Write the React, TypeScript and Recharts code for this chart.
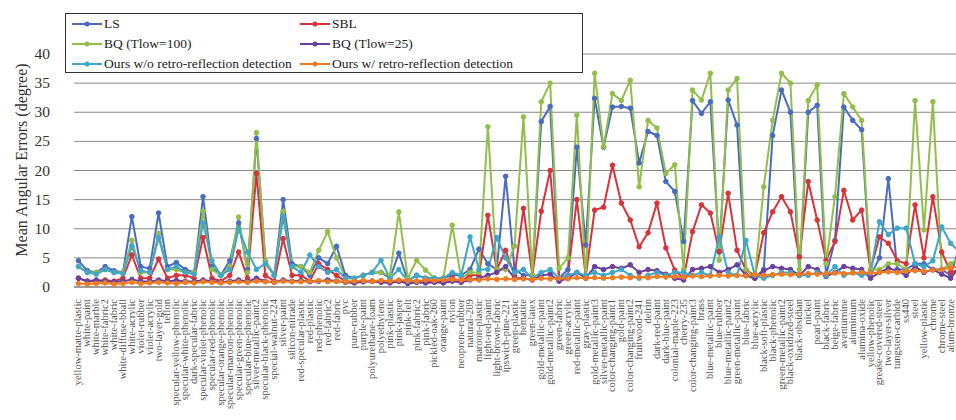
import React from "react";
import { LineChart, Line, XAxis, YAxis, CartesianGrid } from "recharts";

// MERL materials, in the order they are plotted
const materials = [
  "yellow-matte-plastic", "white-paint", "white-marble", "white-fabric2", "white-fabric",
  "white-diffuse-bball", "white-acrylic", "violet-rubber", "violet-acrylic", "two-layer-gold",
  "teflon", "specular-yellow-phenolic", "specular-white-phenolic", "dark-specular-fabric", "specular-violet-phenolic",
  "specular-red-phenolic", "specular-orange-phenolic", "specular-maroon-phenolic", "specular-green-phenolic", "specular-blue-phenolic",
  "silver-metallic-paint2", "specular-black-phenolic", "special-walnut-224", "silver-paint", "silicon-nitrade",
  "red-specular-plastic", "red-plastic", "red-phenolic", "red-fabric2", "red-fabric",
  "pvc", "pure-rubber", "purple-paint", "polyurethane-foam", "polyethylene",
  "pink-plastic", "pink-jasper", "pink-felt", "pink-fabric2", "pink-fabric",
  "pickled-oak-260", "orange-paint", "nylon", "neoprene-rubber", "natural-209",
  "maroon-plastic", "light-red-paint", "light-brown-fabric", "ipswich-pine-221", "green-plastic",
  "hematite", "green-latex", "gold-metallic-paint", "gold-metallic-paint2", "green-fabric",
  "green-acrylic", "red-metallic-paint", "gray-plastic", "gold-metallic-paint3", "silver-metallic-paint",
  "color-changing-paint1", "gold-paint", "color-changing-paint2", "fruitwood-241", "delrin",
  "dark-red-paint", "dark-blue-paint", "colonial-maple-223", "cherry-235", "color-changing-paint3",
  "brass", "blue-metallic-paint", "blue-rubber", "blue-metallic-paint2", "green-metallic-paint",
  "blue-fabric", "blue-acrylic", "black-soft-plastic", "black-phenolic", "green-metallic-paint2",
  "black-oxidized-steel", "black-obsidian", "nickel", "pearl-paint", "black-fabric",
  "beige-fabric", "aventurnine", "aluminium", "alumina-oxide", "yellow-phenolic",
  "grease-covered-steel", "two-layer-silver", "tungsten-carbide", "ss440", "steel",
  "yellow-plastic", "chrome", "chrome-steel", "alum-bronze", "yellow-paint",
];

const ls = [
  4.5, 2.8, 2.5, 3.5, 2.8, 2.5, 12.1, 3.5, 3.2, 12.7,
  3.5, 4.2, 3.0, 2.5, 15.5, 3.5, 2.0, 4.5, 11.0, 3.0,
  25.5, 4.5, 2.0, 15.0, 4.0, 3.5, 2.0, 5.0, 4.0, 7.0,
  2.0, 1.5, 2.0, 2.5, 2.5, 1.5, 5.8, 1.0, 2.0, 1.5,
  1.5, 1.5, 2.0, 2.0, 3.0, 6.5, 4.0, 3.0, 19.0, 3.0,
  2.0, 2.0, 28.4, 31.0, 1.5, 3.0, 24.0, 7.2, 32.4, 24.0,
  30.9, 31.0, 30.7, 21.3, 26.7, 26.0, 18.1, 16.4, 7.8, 32.0,
  29.8, 31.8, 6.0, 32.1, 27.8, 2.0, 1.5, 3.0, 26.0, 33.8,
  30.0, 2.0, 30.0, 31.2, 2.0, 8.0, 30.9, 28.6, 27.0, 2.0,
  5.0, 18.6, 3.0, 3.0, 4.0, 4.0, 3.0, 3.0, 2.0, 7.0,
];

const sbl = [
  1.5, 1.0, 1.0, 1.2, 1.0, 1.5, 5.5, 1.5, 1.5, 4.8,
  1.5, 2.0, 2.0, 1.5, 8.5, 1.5, 1.0, 2.0, 6.0, 1.5,
  19.5, 2.0, 1.0, 8.3, 2.0, 2.0, 1.0, 4.0, 3.0, 2.0,
  1.0, 0.8, 1.0, 1.0, 1.0, 0.8, 1.0, 0.8, 1.0, 1.0,
  1.0, 1.0, 1.5, 1.0, 2.0, 2.0, 12.3, 3.0, 6.3, 2.0,
  13.5, 2.0, 13.0, 20.0, 1.5, 2.0, 15.0, 1.8, 13.2, 13.7,
  20.9, 14.4, 11.5, 6.9, 9.3, 14.4, 6.7, 2.9, 1.5, 9.5,
  14.1, 12.7, 6.1, 16.1, 6.3, 2.9, 2.0, 9.3, 12.9, 15.5,
  12.9, 5.2, 18.1, 11.5, 4.6, 7.8, 16.6, 11.5, 13.2, 3.0,
  8.6, 7.5, 4.5, 4.0, 14.1, 5.0, 15.5, 6.0, 2.5, 3.0,
];

const bq100 = [
  3.5, 2.5, 2.5, 3.0, 2.5, 2.5, 8.0, 2.5, 2.5, 9.2,
  3.0, 3.0, 2.5, 2.5, 13.0, 3.0, 2.0, 3.5, 12.0, 2.5,
  26.5, 4.5, 2.0, 13.0, 3.5, 3.5, 2.5, 6.3, 9.5, 5.0,
  1.5, 1.5, 2.0, 2.5, 2.5, 2.0, 12.9, 1.5, 4.6, 2.9,
  1.5, 1.5, 10.6, 1.5, 2.5, 2.5, 27.5, 3.0, 3.0, 7.0,
  29.2, 2.0, 31.8, 35.0, 3.2, 5.0, 29.5, 1.5, 36.7, 24.1,
  33.2, 32.0, 35.5, 17.2, 28.6, 27.3, 19.5, 21.0, 3.0, 33.8,
  32.1, 36.7, 4.6, 33.8, 35.8, 3.0, 1.5, 17.2, 28.6, 36.7,
  35.0, 3.0, 32.0, 34.7, 4.0, 15.5, 33.2, 30.9, 28.6, 3.0,
  3.0, 4.0, 4.0, 3.0, 32.0, 9.8, 31.8, 3.0, 4.0, 5.0,
];

const bq25 = [
  1.5, 1.0, 1.2, 1.0, 0.9, 1.0, 1.3, 1.0, 0.9, 1.2,
  1.0, 1.1, 1.0, 0.9, 1.2, 1.0, 0.8, 1.0, 1.2, 0.9,
  1.5, 1.0, 0.8, 1.2, 1.0, 1.1, 0.9, 1.0, 1.2, 1.0,
  0.8, 0.7, 0.9, 1.0, 0.8, 0.7, 1.0, 0.6, 0.8, 0.7,
  0.8, 0.7, 1.0, 0.8, 1.2, 1.5, 2.0, 2.5, 3.5, 1.5,
  1.5, 1.2, 2.0, 2.2, 1.0, 1.5, 2.5, 1.5, 3.5, 3.0,
  3.5, 3.2, 3.8, 2.5, 3.0, 2.8, 2.2, 1.5, 1.2, 3.0,
  3.2, 3.5, 2.5, 3.0, 3.8, 2.0, 1.5, 2.8, 3.5, 3.2,
  3.0, 2.0, 3.5, 3.0, 1.8, 2.5, 3.5, 3.2, 3.0, 1.5,
  2.5, 3.2, 2.8, 2.0, 3.5, 2.5, 3.0, 2.2, 1.5, 3.5,
];

const oursWo = [
  3.5, 2.5, 2.2, 3.0, 2.5, 2.3, 7.0, 2.8, 2.5, 8.5,
  3.0, 3.5, 2.5, 2.2, 11.0, 4.5, 2.0, 3.0, 10.0, 6.0,
  3.0, 4.0, 2.0, 12.0, 3.5, 2.5, 5.5, 3.5, 2.5, 3.0,
  1.5, 1.5, 2.0, 2.5, 4.6, 1.5, 3.0, 1.0, 2.0, 1.5,
  1.5, 1.5, 2.5, 2.0, 8.6, 3.0, 3.0, 8.5, 5.0, 2.5,
  3.0, 1.5, 2.5, 3.0, 1.5, 2.0, 2.5, 2.0, 2.5, 2.0,
  2.5, 3.0, 2.0, 1.5, 2.0, 2.5, 2.0, 2.5, 2.5, 2.0,
  2.5, 2.0, 8.6, 2.5, 2.0, 8.0, 2.0, 1.5, 2.0, 2.5,
  2.5, 2.0, 2.0, 2.5, 2.0, 3.5, 2.0, 2.5, 2.0, 2.5,
  11.2, 9.0, 10.1, 10.1, 4.0, 3.5, 4.5, 10.3, 7.5, 6.0,
];

const oursW = [
  0.6, 0.5, 0.6, 0.7, 0.5, 0.6, 0.8, 0.6, 0.7, 0.8,
  0.7, 0.6, 0.8, 0.7, 0.9, 0.8, 0.7, 0.8, 0.9, 0.8,
  1.0, 0.9, 0.8, 1.0, 0.9, 0.9, 1.0, 1.1, 0.9, 1.0,
  0.9, 1.0, 1.1, 1.0, 1.1, 1.0, 1.2, 1.1, 1.0, 1.2,
  1.1, 1.2, 1.3, 1.2, 1.3, 1.2, 1.4, 1.3, 1.4, 1.3,
  1.4, 1.3, 1.5, 1.4, 1.5, 1.4, 1.6, 1.5, 1.6, 1.5,
  1.6, 1.7, 1.6, 1.7, 1.6, 1.8, 1.7, 1.8, 1.7, 1.9,
  1.8, 1.9, 2.0, 1.9, 2.0, 1.9, 2.1, 2.0, 2.1, 2.2,
  2.1, 2.2, 2.3, 2.2, 2.3, 2.4, 2.3, 2.4, 2.5, 2.4,
  2.5, 2.6, 2.5, 2.7, 2.8, 2.7, 2.9, 3.0, 3.3, 3.5,
];

const yTicks = [0, 5, 10, 15, 20, 25, 30, 35, 40];

const series = [
  { key: "ls", name: "LS", color: "#4a6cc0" },
  { key: "sbl", name: "SBL", color: "#d8333a" },
  { key: "bq100", name: "BQ (Tlow=100)", color: "#92bf4a" },
  { key: "bq25", name: "BQ (Tlow=25)", color: "#6a3f9e" },
  { key: "oursWo", name: "Ours w/o retro-reflection detection", color: "#3fa7c9" },
  { key: "oursW", name: "Ours w/ retro-reflection detection", color: "#f07c22" },
];

const data = materials.map((m, i) => ({
  name: m,
  ls: ls[i],
  sbl: sbl[i],
  bq100: bq100[i],
  bq25: bq25[i],
  oursWo: oursWo[i],
  oursW: oursW[i],
}));

const SERIF = "'Liberation Serif', 'DejaVu Serif', serif";

const MaterialTick = (props: any) => {
  const { x, y, payload } = props;
  return (
    <text
      x={0}
      y={0}
      transform={`translate(${x + 3},${y + 4}) rotate(-90)`}
      textAnchor="end"
      fontSize={10.5}
      fontFamily={SERIF}
      fill="#555"
    >
      {payload.value}
    </text>
  );
};

const ValueTick = (props: any) => {
  const { y, payload } = props;
  return (
    <text x={50} y={y + 5} textAnchor="end" fontSize={15.5} fontFamily={SERIF} fill="#333">
      {payload.value}
    </text>
  );
};

const AxisTitle = () => (
  <text
    x={0}
    y={0}
    transform="translate(27,160) rotate(-90)"
    textAnchor="middle"
    fontSize={16}
    fontFamily={SERIF}
    fill="#333"
  >
    Mean Angular Errors (degree)
  </text>
);

const legendRows = [
  [series[0], series[1]],
  [series[2], series[3]],
  [series[4], series[5]],
];

const ChartLegend = () => (
  <div
    style={{
      position: "absolute",
      left: 65,
      top: 13,
      width: 516,
      height: 58,
      border: "1px solid #333",
      background: "#fff",
      fontFamily: SERIF,
      fontSize: 13.5,
      color: "#222",
    }}
  >
    {legendRows.map((row, r) =>
      row.map((s, c) => (
        <div
          key={s.key}
          style={{
            position: "absolute",
            left: c === 0 ? 6 : 234,
            top: 1 + r * 20,
            height: 18,
            display: "flex",
            alignItems: "center",
            whiteSpace: "nowrap",
          }}
        >
          <svg width={30} height={10} style={{ marginRight: 2 }}>
            <line x1={0} y1={5} x2={30} y2={5} stroke={s.color} strokeWidth={2} />
            <circle cx={15} cy={5} r={2.5} fill={s.color} />
          </svg>
          <span>{s.name}</span>
        </div>
      ))
    )}
  </div>
);

export default function App() {
  return (
    <div
      style={{
        position: "absolute",
        left: 0,
        top: 0,
        width: 956,
        height: 420,
        overflow: "hidden",
        background: "#fff",
      }}
    >
      {/* the plot runs a few pixels past the right edge of the frame */}
      <LineChart
        width={966}
        height={420}
        data={data}
        margin={{ top: 54, right: 2, bottom: 0, left: 0 }}
      >
        <CartesianGrid horizontal vertical={false} stroke="#8a8a8a" strokeWidth={1} />
        <XAxis
          dataKey="name"
          interval={0}
          height={133}
          padding={{ left: 4.45, right: 4.45 }}
          tick={<MaterialTick />}
          tickLine={false}
          axisLine={{ stroke: "#777" }}
        />
        <YAxis
          width={74}
          domain={[0, 40]}
          ticks={yTicks}
          interval={0}
          tick={<ValueTick />}
          tickLine={false}
          axisLine={false}
          label={<AxisTitle />}
        />
        {series.map((s) => (
          <Line
            key={s.key}
            dataKey={s.key}
            name={s.name}
            type="linear"
            stroke={s.color}
            strokeWidth={2}
            dot={{ r: 2.3, fill: s.color, stroke: s.color, strokeWidth: 1 }}
            isAnimationActive={false}
          />
        ))}
      </LineChart>
      <ChartLegend />
    </div>
  );
}
